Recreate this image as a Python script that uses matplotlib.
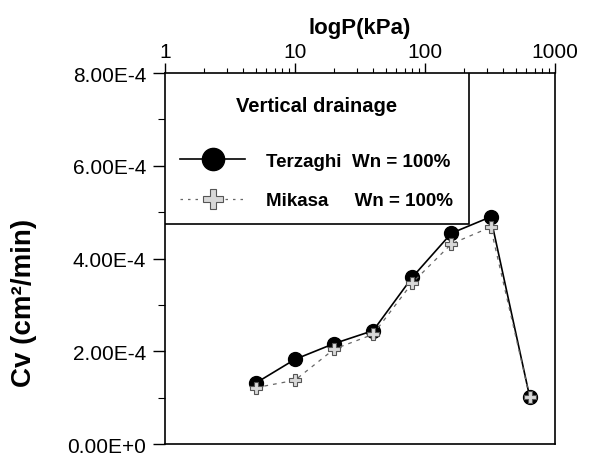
import matplotlib
matplotlib.use("Agg")
import matplotlib.pyplot as plt
from matplotlib.ticker import LogLocator, FixedLocator, NullFormatter
from matplotlib.lines import Line2D
from matplotlib.patches import Rectangle

plt.rcParams['font.family'] = ['Liberation Sans', 'DejaVu Sans']

pressure = [5, 10, 20, 40, 80, 160, 320, 640]
cv_terzaghi = [1.32e-4, 1.83e-4, 2.17e-4, 2.45e-4, 3.60e-4, 4.55e-4, 4.90e-4, 1.02e-4]
cv_mikasa = [1.22e-4, 1.38e-4, 2.05e-4, 2.37e-4, 3.48e-4, 4.32e-4, 4.68e-4, 1.02e-4]
y_ticks = [0, 2e-4, 4e-4, 6e-4, 8e-4]
y_tick_labels = ['0.00E+0', '2.00E-4', '4.00E-4', '6.00E-4', '8.00E-4']
x_ticks = [1, 10, 100, 1000]
x_tick_labels = ['1', '10', '100', '1000']

fig = plt.figure(figsize=(5.89, 4.56), dpi=100)
ax = fig.add_axes([0.280, 0.0235, 0.6621, 0.814])

ax.plot(pressure, cv_terzaghi, '-', color='black', lw=1.2, marker='o',
        markersize=10, markerfacecolor='black', markeredgecolor='black', zorder=3)
ax.plot(pressure, cv_mikasa, linestyle=(0, (3, 4)), color='#666666', lw=0.9, marker='P',
        markersize=9, markerfacecolor='#d8d8d8', markeredgecolor='#555555',
        markeredgewidth=0.8, zorder=4)

ax.set_xscale('log')
ax.set_xlim(1, 1000)
ax.set_ylim(0, 8e-4)

ax.xaxis.set_ticks_position('top')
ax.xaxis.set_label_position('top')
ax.set_xticks(x_ticks)
ax.set_xticklabels(x_tick_labels)
ax.xaxis.set_minor_locator(LogLocator(base=10, subs=range(2, 10)))
ax.xaxis.set_minor_formatter(NullFormatter())
ax.set_xlabel('logP(kPa)', fontsize=16, fontweight='bold', labelpad=6)

ax.set_yticks(y_ticks)
ax.set_yticklabels(y_tick_labels)
ax.yaxis.set_minor_locator(FixedLocator([1e-4, 3e-4, 5e-4, 7e-4]))
ax.set_ylabel('Cv (cm²/min)', fontsize=20, fontweight='bold')
ax.yaxis.set_label_coords(-0.327, 0.383)

ax.tick_params(axis='x', which='major', direction='out', length=7, width=1, labelsize=15, pad=2)
ax.tick_params(axis='x', which='minor', direction='out', length=3.5, width=0.8)
ax.tick_params(axis='y', which='major', direction='out', length=8.5, width=1, labelsize=15, pad=5)
ax.tick_params(axis='y', which='minor', direction='out', length=5, width=0.8)

for s in ax.spines.values():
    s.set_linewidth(1.2)
    s.set_color('black')

# legend frame
ax.add_patch(Rectangle((0, 0.5925), 0.78, 0.4075, transform=ax.transAxes,
                       facecolor='white', edgecolor='black', lw=1.2, zorder=5))

h1 = Line2D([], [], color='black', lw=1.2, marker='o', markersize=16,
            markerfacecolor='black', markeredgecolor='black')
h2 = Line2D([], [], color='#666666', lw=0.9, linestyle=(0, (2, 4)), marker='P', markersize=15,
            markerfacecolor='#d8d8d8', markeredgecolor='#555555', markeredgewidth=0.8)
leg = ax.legend([h1, h2], ['Terzaghi  Wn = 100%', 'Mikasa     Wn = 100%'],
                title='Vertical drainage', loc='upper left',
                bbox_to_anchor=(0.038, 0.938),
                borderaxespad=0, borderpad=0, frameon=False,
                prop={'size': 13.5, 'weight': 'bold'},
                title_fontproperties={'size': 14.5, 'weight': 'bold'},
                handlelength=3.5, handletextpad=1.1, labelspacing=1.2,
                markerscale=1)
leg.set_zorder(6)
leg._legend_box.sep = 27

fig.savefig('out.png', dpi=100)
